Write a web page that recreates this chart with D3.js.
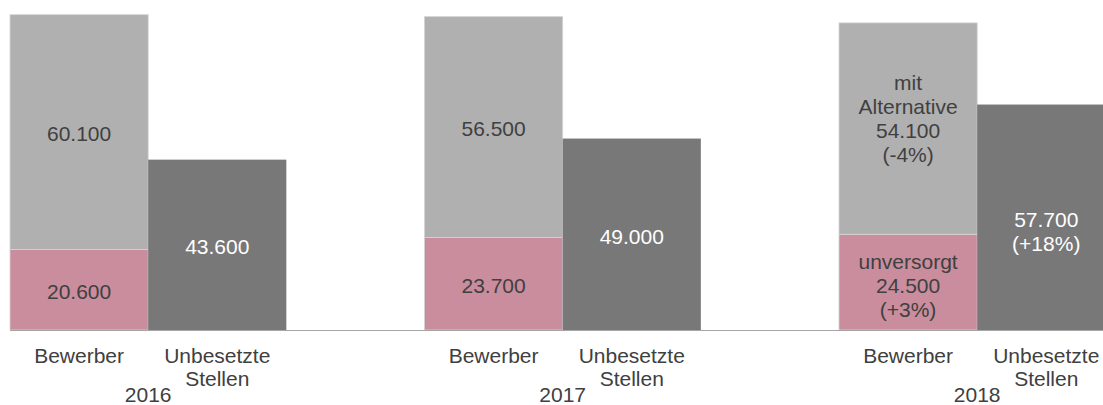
<!DOCTYPE html>
<html>
<head>
<meta charset="utf-8">
<script src="https://cdn.jsdelivr.net/npm/d3@7"></script>
<style>
  body { margin: 0; background: #fff; }
  svg { display: block; font-family: Arial, "Liberation Sans", sans-serif; }
</style>
</head>
<body>
<div id="chart"></div>
<script>
let width = 1103;
let height = 405;

// data
let years = ["2016", "2017", "2018"];
let unversorgt = [20600, 23700, 24500];
let mitAlternative = [60100, 56500, 54100];
let unbesetzt = [43600, 49000, 57700];

let unversorgtNotes = [[], [], ["unversorgt", "", "(+3%)"]];
let alternativeNotes = [[], [], ["mit", "Alternative", "", "(-4%)"]];
let stellenNotes = [[], [], ["", "(+18%)"]];

let barNames = ["Bewerber", "Stellen"];
let barLabels = [["Bewerber"], ["Unbesetzte", "Stellen"]];

let de = d3.formatLocale({decimal: ",", thousands: ".", grouping: [3], currency: ["", "€"]});
let fmt = de.format(",");

let fontSize = 21;

let svg = d3.select("#chart")
  .append("svg")
    .attr("width", width)
    .attr("height", height);

// group scale: 2 bars + 1 bar gap per year, last group runs off the right edge
let x0 = d3.scaleBand()
  .domain(years)
  .range([10, 10 + 414.5 * 3])
  .paddingInner(1 / 3)
  .paddingOuter(1 / 6)
  .align(0);

let x1 = d3.scaleBand()
  .domain(barNames)
  .range([0, x0.bandwidth()]);

let y = d3.scaleLinear()
  .domain([0, 81900])
  .range([330, 10]);

let colors = {
  unversorgt: "#c98d9d",
  alternative: "#b0b0b0",
  stellen: "#787878"
};

// build the segments
let segments = [];
years.forEach(function(yr, i){
  segments.push({year: yr, bar: "Bewerber", key: "unversorgt", y0: 0, y1: unversorgt[i],
    value: unversorgt[i], notes: unversorgtNotes[i], shift: i == 2 ? 4 : 2, dark: false});
  segments.push({year: yr, bar: "Bewerber", key: "alternative", y0: unversorgt[i], y1: unversorgt[i] + mitAlternative[i],
    value: mitAlternative[i], notes: alternativeNotes[i], shift: i == 2 ? -9.5 : 1.5, dark: false});
  segments.push({year: yr, bar: "Stellen", key: "stellen", y0: 0, y1: unbesetzt[i],
    value: unbesetzt[i], notes: stellenNotes[i], shift: i == 2 ? 14 : 2, dark: true});
});

let groups = svg.selectAll(".yeargroup").data(years).enter()
  .append("g")
    .attr("class", "yeargroup")
    .attr("transform", d => "translate(" + x0(d) + ",0)");

svg.selectAll(".seg").data(segments).enter()
  .append("rect")
    .attr("class", "seg")
    .attr("x", d => x0(d.year) + x1(d.bar))
    .attr("width", x1.bandwidth())
    .attr("y", d => y(d.y1))
    .attr("height", d => y(d.y0) - y(d.y1))
    .attr("fill", d => colors[d.key])
    .attr("stroke", d => d.dark ? "none" : "#d4d4d4")
    .attr("stroke-width", 0.8);

// axis line
svg.append("line")
  .attr("x1", 10)
  .attr("x2", width)
  .attr("y1", y(0) + 0.5)
  .attr("y2", y(0) + 0.5)
  .attr("stroke", "#a6a6a6")
  .attr("stroke-width", 1.2);

// value labels
let lineH = 24;
let labels = svg.selectAll(".vlabel").data(segments).enter()
  .append("text")
    .attr("class", "vlabel")
    .attr("text-anchor", "middle")
    .attr("font-size", fontSize)
    .attr("fill", d => d.dark ? "#ffffff" : "#404040")
    .each(function(d){
      let lines = d.notes.length ? d.notes.map(t => t === "" ? fmt(d.value) : t) : [fmt(d.value)];
      let cx = x0(d.year) + x1(d.bar) + x1.bandwidth() / 2;
      let cy = (y(d.y0) + y(d.y1)) / 2 + d.shift;
      let top = cy - (lines.length - 1) * lineH / 2;
      d3.select(this).selectAll("tspan").data(lines).enter()
        .append("tspan")
          .attr("x", cx)
          .attr("y", (t, j) => top + j * lineH)
          .attr("dy", "0.35em")
          .text(t => t);
    });

// category labels under each bar
groups.each(function(yr){
  let g = d3.select(this);
  barNames.forEach(function(b, k){
    g.append("text")
      .attr("text-anchor", "middle")
      .attr("font-size", fontSize)
      .attr("fill", "#404040")
      .selectAll("tspan").data(barLabels[k]).enter()
      .append("tspan")
        .attr("x", x1(b) + x1.bandwidth() / 2)
        .attr("y", (t, j) => 356 + j * 23)
        .attr("dy", "0.35em")
        .text(t => t);
  });
  g.append("text")
    .attr("text-anchor", "middle")
    .attr("font-size", fontSize)
    .attr("fill", "#404040")
    .attr("x", x0.bandwidth() / 2)
    .attr("y", 395)
    .attr("dy", "0.33em")
    .text(yr);
});
</script>
</body>
</html>
